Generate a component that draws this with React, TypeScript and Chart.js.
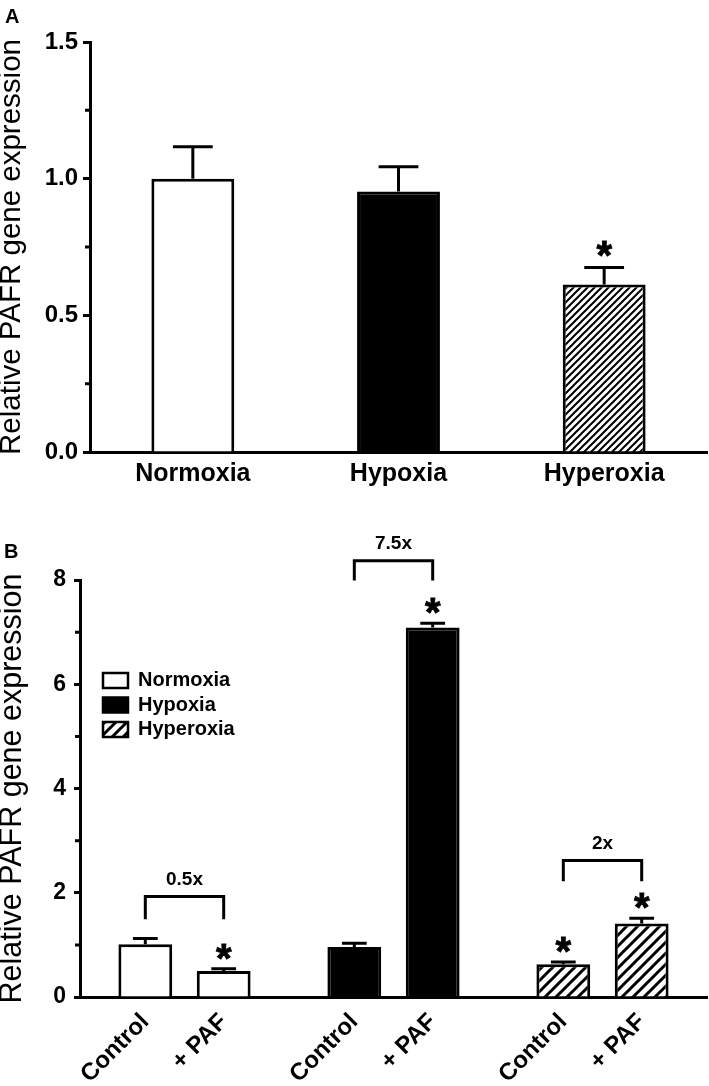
import React, { useEffect, useRef } from "react";
import { Chart, registerables } from "chart.js";

Chart.register(...registerables);

const FONT = "'Liberation Sans', Arial, Helvetica, sans-serif";
const Y_TITLE = "Relative PAFR gene expression";

// ---------- Panel A data ----------
const categoriesA = ["Normoxia", "Hypoxia", "Hyperoxia"];
const meanA = [1.0, 0.953, 0.613];
const semA = [0.117, 0.091, 0.062];
const significantA = [false, false, true];
const yMaxA = 1.5;
const yStepA = 0.5;

// ---------- Panel B data ----------
const groupsB = ["Normoxia", "Hypoxia", "Hyperoxia"];
const treatmentsB = ["Control", "+ PAF"];
const meanNormoxiaB = [1.01, 0.5];
const meanHypoxiaB = [0.96, 7.09];
const meanHyperoxiaB = [0.63, 1.41];
const semNormoxiaB = [0.11, 0.04];
const semHypoxiaB = [0.07, 0.08];
const semHyperoxiaB = [0.04, 0.1];
const sigNormoxiaB = [false, true];
const sigHypoxiaB = [false, true];
const sigHyperoxiaB = [true, true];
const foldChangeB = ["0.5x", "7.5x", "2x"];
const bracketTopB = [1.93, 8.37, 2.62];
const bracketFootB = [1.49, 7.99, 2.22];
const yMaxB = 8;
const yStepB = 2;

// slot layout of panel B (each group occupies 8 category slots)
const SLOTS_PER_GROUP = 8;
const TREATMENT_SLOT = [2, 5];

function makeHatch(spacing: number, lineWidth: number): CanvasPattern {
  const c = document.createElement("canvas");
  c.width = spacing;
  c.height = spacing;
  const g = c.getContext("2d")!;
  g.fillStyle = "#fff";
  g.fillRect(0, 0, spacing, spacing);
  g.strokeStyle = "#000";
  g.lineWidth = lineWidth;
  g.beginPath();
  for (let k = 0; k <= 2; k++) {
    g.moveTo(k * spacing - spacing - 2, spacing + 2);
    g.lineTo(k * spacing + 2, -2);
  }
  g.stroke();
  return g.createPattern(c, "repeat")!;
}

function drawStar(ctx: CanvasRenderingContext2D, x: number, cy: number, size: number) {
  ctx.save();
  ctx.fillStyle = "#000";
  ctx.strokeStyle = "#000";
  ctx.lineWidth = 0.8;
  ctx.font = `bold ${size}px ${FONT}`;
  ctx.textAlign = "center";
  ctx.textBaseline = "alphabetic";
  const m = ctx.measureText("*");
  const base = cy + (m.actualBoundingBoxAscent - m.actualBoundingBoxDescent) / 2;
  ctx.fillText("*", x, base);
  ctx.strokeText("*", x, base);
  ctx.restore();
}

function drawErrorBars(
  chart: any,
  di: number,
  sems: (number | null)[],
  sigs: (boolean | null)[],
  opt: { lw: number; cap: number; starGap: number; starSize: number }
) {
  const ctx: CanvasRenderingContext2D = chart.ctx;
  const ys = chart.scales.y;
  const meta = chart.getDatasetMeta(di);
  const values = chart.data.datasets[di].data as (number | null)[];
  meta.data.forEach((el: any, i: number) => {
    const v = values[i];
    const e = sems[i];
    if (v == null || e == null) return;
    const { x, width } = el.getProps(["x", "width"], true);
    const yBar = ys.getPixelForValue(v);
    const yTop = ys.getPixelForValue(v + e);
    const half = (width * opt.cap) / 2;
    ctx.save();
    ctx.strokeStyle = "#000";
    ctx.lineWidth = opt.lw;
    ctx.beginPath();
    ctx.moveTo(x, yBar);
    ctx.lineTo(x, yTop);
    ctx.moveTo(x - half, yTop);
    ctx.lineTo(x + half, yTop);
    ctx.stroke();
    ctx.restore();
    if (sigs[i]) drawStar(ctx, x, yTop - opt.starGap, opt.starSize);
  });
}

function drawMinorTicks(chart: any, len: number, lw: number) {
  const s = chart.scales.y;
  const ctx: CanvasRenderingContext2D = chart.ctx;
  ctx.save();
  ctx.strokeStyle = "#000";
  ctx.lineWidth = lw;
  ctx.beginPath();
  for (let i = 0; i < s.ticks.length - 1; i++) {
    const mid = (s.ticks[i].value + s.ticks[i + 1].value) / 2;
    const py = s.getPixelForValue(mid);
    ctx.moveTo(s.right - len, py);
    ctx.lineTo(s.right, py);
  }
  ctx.stroke();
  ctx.restore();
}

function drawPanelLetter(ctx: CanvasRenderingContext2D, letter: string, x: number, y: number) {
  ctx.save();
  ctx.fillStyle = "#000";
  ctx.font = `bold 20px ${FONT}`;
  ctx.textAlign = "left";
  ctx.textBaseline = "alphabetic";
  ctx.fillText(letter, x, y);
  ctx.restore();
}

// ---------- build panel B table ----------
const labelsB: string[] = [];
groupsB.forEach(() => {
  for (let s = 0; s < SLOTS_PER_GROUP; s++) {
    const t = TREATMENT_SLOT.indexOf(s);
    labelsB.push(t >= 0 ? treatmentsB[t] : "");
  }
});
function spread<T>(g: number, vals: T[]): (T | null)[] {
  const out: (T | null)[] = new Array(labelsB.length).fill(null);
  TREATMENT_SLOT.forEach((slot, t) => {
    out[g * SLOTS_PER_GROUP + slot] = vals[t];
  });
  return out;
}
const meansB = [meanNormoxiaB, meanHypoxiaB, meanHyperoxiaB];
const semsB = [semNormoxiaB, semHypoxiaB, semHyperoxiaB];
const sigsB = [sigNormoxiaB, sigHypoxiaB, sigHyperoxiaB];

export default function App() {
  const refA = useRef<HTMLCanvasElement>(null);
  const refB = useRef<HTMLCanvasElement>(null);

  useEffect(() => {
    Chart.defaults.font.family = FONT;
    Chart.defaults.color = "#000";
    const hatchA = makeHatch(7, 2);
    const hatchB = makeHatch(11, 3);

    const pluginA = {
      id: "panelA",
      afterDatasetsDraw(chart: any) {
        drawMinorTicks(chart, 5, 3);
        drawErrorBars(chart, 0, semA, significantA, { lw: 3, cap: 0.48, starGap: 19, starSize: 40 });
        drawPanelLetter(chart.ctx, "A", 5, 23);
      },
    };

    const chartA = new Chart(refA.current!, {
      type: "bar",
      data: {
        labels: categoriesA,
        datasets: [
          {
            label: "PAFR",
            data: meanA,
            backgroundColor: ["#ffffff", "#000000", hatchA] as any,
            borderColor: "#000",
            borderWidth: 3,
            barPercentage: 0.403,
            categoryPercentage: 1,
          },
        ],
      },
      options: {
        responsive: false,
        animation: false,
        layout: { padding: { top: 42, right: 2, left: 0, bottom: 0 } },
        plugins: { legend: { display: false }, tooltip: { enabled: false } },
        scales: {
          x: {
            grid: { display: true, drawOnChartArea: false, drawTicks: false },
            border: { display: true, color: "#000", width: 3 },
            ticks: { font: { size: 25, weight: "bold" }, color: "#000", padding: 7 },
            afterFit: (s: any) => {
              s.height = 78;
              s.paddingLeft = 0;
              s.paddingRight = 0;
            },
          },
          y: {
            min: 0,
            max: yMaxA,
            ticks: {
              stepSize: yStepA,
              font: { size: 24, weight: "bold" },
              color: "#000",
              padding: 5,
              callback: (v: any) => Number(v).toFixed(1),
            },
            grid: { drawOnChartArea: false, drawTicks: true, tickLength: 7, tickWidth: 3, tickColor: "#000", color: "#000" },
            border: { display: true, color: "#000", width: 3 },
            title: {
              display: true,
              text: Y_TITLE,
              color: "#000",
              font: { size: 29.5, weight: "normal", lineHeight: 0.8 },
              padding: { top: 0, bottom: 0 },
            },
            afterFit: (s: any) => {
              s.width = 90;
            },
          },
        },
      } as any,
      plugins: [pluginA],
    });

    const fillsB = ["#ffffff", "#000000", hatchB];

    const pluginB = {
      id: "panelB",
      afterDatasetsDraw(chart: any) {
        const ctx: CanvasRenderingContext2D = chart.ctx;
        const ys = chart.scales.y;
        const area = chart.chartArea;
        drawMinorTicks(chart, 5, 3);
        groupsB.forEach((_, g) => {
          drawErrorBars(chart, g, spread(g, semsB[g]), spread(g, sigsB[g]), {
            lw: 3,
            cap: 0.46,
            starGap: 17,
            starSize: 40,
          });
        });
        // brackets with fold change
        const meta = groupsB.map((_, g) => chart.getDatasetMeta(g));
        groupsB.forEach((_, g) => {
          const i0 = g * SLOTS_PER_GROUP + TREATMENT_SLOT[0];
          const i1 = g * SLOTS_PER_GROUP + TREATMENT_SLOT[1];
          const x0 = meta[g].data[i0].getProps(["x"], true).x;
          const x1 = meta[g].data[i1].getProps(["x"], true).x;
          const yt = ys.getPixelForValue(bracketTopB[g]);
          const yf = ys.getPixelForValue(bracketFootB[g]);
          ctx.save();
          ctx.strokeStyle = "#000";
          ctx.lineWidth = 3;
          ctx.beginPath();
          ctx.moveTo(x0, yf);
          ctx.lineTo(x0, yt);
          ctx.lineTo(x1, yt);
          ctx.lineTo(x1, yf);
          ctx.stroke();
          ctx.fillStyle = "#000";
          ctx.font = `bold 19px ${FONT}`;
          ctx.textAlign = "center";
          ctx.textBaseline = "middle";
          ctx.fillText(foldChangeB[g], (x0 + x1) / 2, yt - 17);
          ctx.restore();
        });
        // legend
        const lx = area.left + 23;
        const ly = area.top + 93;
        chart.data.datasets.forEach((ds: any, i: number) => {
          const top = ly + i * 24.5;
          ctx.save();
          ctx.fillStyle = fillsB[i] as any;
          ctx.fillRect(lx, top, 25, 15);
          ctx.strokeStyle = "#000";
          ctx.lineWidth = 2.5;
          ctx.strokeRect(lx, top, 25, 15);
          ctx.fillStyle = "#000";
          ctx.font = `bold 20px ${FONT}`;
          ctx.textAlign = "left";
          ctx.textBaseline = "middle";
          ctx.fillText(ds.label, lx + 35, top + 7.5);
          ctx.restore();
        });
        drawPanelLetter(ctx, "B", 4, 28);
      },
    };

    const chartB = new Chart(refB.current!, {
      type: "bar",
      data: {
        labels: labelsB,
        datasets: groupsB.map((name, g) => ({
          label: name,
          data: spread(g, meansB[g]),
          backgroundColor: fillsB[g] as any,
          borderColor: "#000",
          borderWidth: 3,
          grouped: false,
          barPercentage: 2.06,
          categoryPercentage: 1,
        })),
      },
      options: {
        responsive: false,
        animation: false,
        layout: { padding: { top: 50, right: 2, left: 0, bottom: 0 } },
        plugins: { legend: { display: false }, tooltip: { enabled: false } },
        scales: {
          x: {
            grid: { display: true, drawOnChartArea: false, drawTicks: false },
            border: { display: true, color: "#000", width: 3 },
            ticks: {
              autoSkip: false,
              maxRotation: 45,
              minRotation: 45,
              font: { size: 24, weight: "bold" },
              color: "#000",
              padding: 11,
            },
            afterFit: (s: any) => {
              s.height = 89;
              s.paddingLeft = 0;
              s.paddingRight = 0;
            },
          },
          y: {
            min: 0,
            max: yMaxB,
            ticks: {
              stepSize: yStepB,
              font: { size: 23, weight: "bold" },
              color: "#000",
              padding: 8,
            },
            grid: { drawOnChartArea: false, drawTicks: true, tickLength: 6, tickWidth: 3, tickColor: "#000", color: "#000" },
            border: { display: true, color: "#000", width: 3 },
            title: {
              display: true,
              text: Y_TITLE,
              color: "#000",
              font: { size: 30.5, weight: "normal", lineHeight: 0.8 },
              padding: { top: 0, bottom: 0 },
            },
            afterFit: (s: any) => {
              s.width = 80;
            },
          },
        },
      } as any,
      plugins: [pluginB],
    });

    return () => {
      chartA.destroy();
      chartB.destroy();
    };
  }, []);

  return (
    <div style={{ position: "absolute", left: 0, top: 0, width: 709, height: 1086, background: "#fff" }}>
      <canvas ref={refA} width={709} height={530} style={{ position: "absolute", left: 0, top: 0 }} />
      <canvas ref={refB} width={709} height={556} style={{ position: "absolute", left: 0, top: 530 }} />
    </div>
  );
}
